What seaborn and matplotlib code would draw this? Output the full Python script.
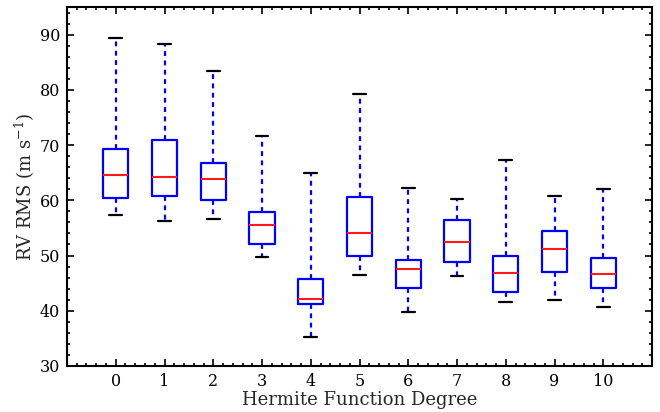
import numpy as np
import pandas as pd
import matplotlib
matplotlib.use("Agg")
import matplotlib.pyplot as plt
import seaborn as sns
from matplotlib.ticker import MultipleLocator

degrees = [0, 1, 2, 3, 4, 5, 6, 7, 8, 9, 10]
whisker_low = [57.3, 56.3, 56.6, 49.8, 35.3, 46.5, 39.8, 46.3, 41.6, 41.9, 40.7]
q1 = [60.5, 60.7, 60.1, 52.0, 41.2, 49.9, 44.2, 48.8, 43.4, 47.1, 44.2]
median = [64.6, 64.2, 63.9, 55.5, 42.1, 54.0, 47.5, 52.4, 46.8, 51.1, 46.6]
q3 = [69.3, 71.0, 66.8, 57.8, 45.8, 60.6, 49.2, 56.4, 49.9, 54.5, 49.6]
whisker_high = [89.4, 88.3, 83.5, 71.7, 65.0, 79.3, 62.3, 60.3, 67.3, 60.8, 62.0]

rows = []
for d, lo, a, m, b, hi in zip(degrees, whisker_low, q1, median, q3, whisker_high):
    for v in (lo, a, m, b, hi):
        rows.append({"degree": d, "rms": v})
df = pd.DataFrame(rows)

sns.set_style("ticks")
plt.rcParams["font.family"] = ["DejaVu Serif"]
plt.rcParams["mathtext.fontset"] = "dejavuserif"

fig = plt.figure(figsize=(6.6, 4.12), dpi=100)
ax = fig.add_axes([0.1015, 0.1117, 0.8865, 0.8713])

sns.boxplot(data=df, x="degree", y="rms", native_scale=True, whis=(0, 100),
            width=0.52, fill=False, linewidth=1.6, ax=ax,
            boxprops=dict(color="#0000ff", linewidth=1.6),
            medianprops=dict(color="#ff1a1a", linewidth=1.5),
            whiskerprops=dict(color="#0000ff", linewidth=1.6, linestyle=(0, (2.2, 2.0))),
            capprops=dict(color="black", linewidth=1.6),
            showfliers=False)

ax.set_xlim(-1, 11)
ax.set_ylim(30, 95)
ax.set_xticks(degrees)
ax.set_xticklabels([str(d) for d in degrees])
ax.set_yticks([30, 40, 50, 60, 70, 80, 90])
ax.xaxis.set_minor_locator(MultipleLocator(0.2))
ax.yaxis.set_minor_locator(MultipleLocator(2))
ax.tick_params(which="both", direction="in", top=True, right=True, width=1.2, colors="black", labelsize=11.5)
ax.tick_params(which="major", length=5, pad=5)
ax.tick_params(which="minor", length=2.5)
for s in ax.spines.values():
    s.set_linewidth(1.5)
    s.set_color("black")

ax.set_xlabel("Hermite Function Degree", fontsize=13, labelpad=1)
ax.set_ylabel(r"RV RMS (m s$^{-1}$)", fontsize=13, labelpad=2)

fig.savefig("out.png", dpi=100)
